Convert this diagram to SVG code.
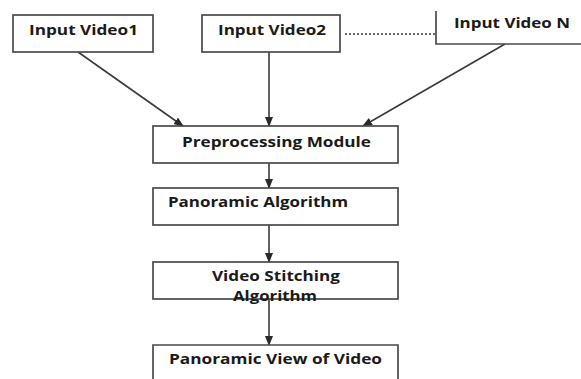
<svg xmlns="http://www.w3.org/2000/svg" width="581" height="379" viewBox="0 0 581 379">
<defs>
<style>
.box{fill:#fff;stroke:#4a4a4a;stroke-width:1.7}
.ln{stroke:#3a3a3a;stroke-width:1.6;fill:none}
.t{font-family:"Open Sans","Liberation Sans",sans-serif;font-weight:bold;font-size:15px;fill:#1a1a1a}
</style>
<marker id="ah" markerWidth="10" markerHeight="8" refX="9" refY="4" orient="auto" markerUnits="userSpaceOnUse">
<path d="M0,0 L10,4 L0,8 Z" fill="#2a2a2a"/>
</marker>
</defs>
<rect width="581" height="379" fill="#fff"/>
<g id="connectors">
<line class="ln" x1="78" y1="52" x2="183" y2="126" marker-end="url(#ah)"/>
<line class="ln" x1="269" y1="52" x2="269" y2="126" marker-end="url(#ah)"/>
<line class="ln" x1="505" y1="44" x2="363" y2="126" marker-end="url(#ah)"/>
<line class="ln" x1="345" y1="34" x2="436" y2="34" stroke-dasharray="2,2"/>
<line class="ln" x1="269" y1="163" x2="269" y2="188" marker-end="url(#ah)"/>
<line class="ln" x1="269" y1="225" x2="269" y2="262" marker-end="url(#ah)"/>
<line class="ln" x1="269" y1="299" x2="269" y2="345" marker-end="url(#ah)"/>
</g>
<g id="input1">
<rect class="box" x="13" y="15" width="140" height="37"/>
<text class="t" x="29" y="35" textLength="109" lengthAdjust="spacingAndGlyphs">Input Video1</text>
</g>
<g id="input2">
<rect class="box" x="202" y="15" width="138" height="37"/>
<text class="t" x="218" y="35" textLength="108" lengthAdjust="spacingAndGlyphs">Input Video2</text>
</g>
<g id="inputN">
<path class="box" d="M436,11 V44 H582"/>
<text class="t" x="454" y="28" textLength="116" lengthAdjust="spacingAndGlyphs">Input Video N</text>
</g>
<g id="preprocessing">
<rect class="box" x="153" y="126" width="245" height="37"/>
<text class="t" x="182" y="147" textLength="189" lengthAdjust="spacingAndGlyphs">Preprocessing Module</text>
</g>
<g id="panoramic">
<rect class="box" x="153" y="188" width="245" height="37"/>
<text class="t" x="168" y="207" textLength="180" lengthAdjust="spacingAndGlyphs">Panoramic Algorithm</text>
</g>
<g id="stitching">
<rect class="box" x="153" y="262" width="245" height="37"/>
<text class="t" x="212" y="281" textLength="128" lengthAdjust="spacingAndGlyphs">Video Stitching</text>
<text class="t" x="233" y="301" textLength="84" lengthAdjust="spacingAndGlyphs">Algorithm</text>
</g>
<g id="view">
<path class="box" d="M153,381 V345 H398 V381"/>
<text class="t" x="169" y="364" textLength="213" lengthAdjust="spacingAndGlyphs">Panoramic View of Video</text>
</g>
</svg>
